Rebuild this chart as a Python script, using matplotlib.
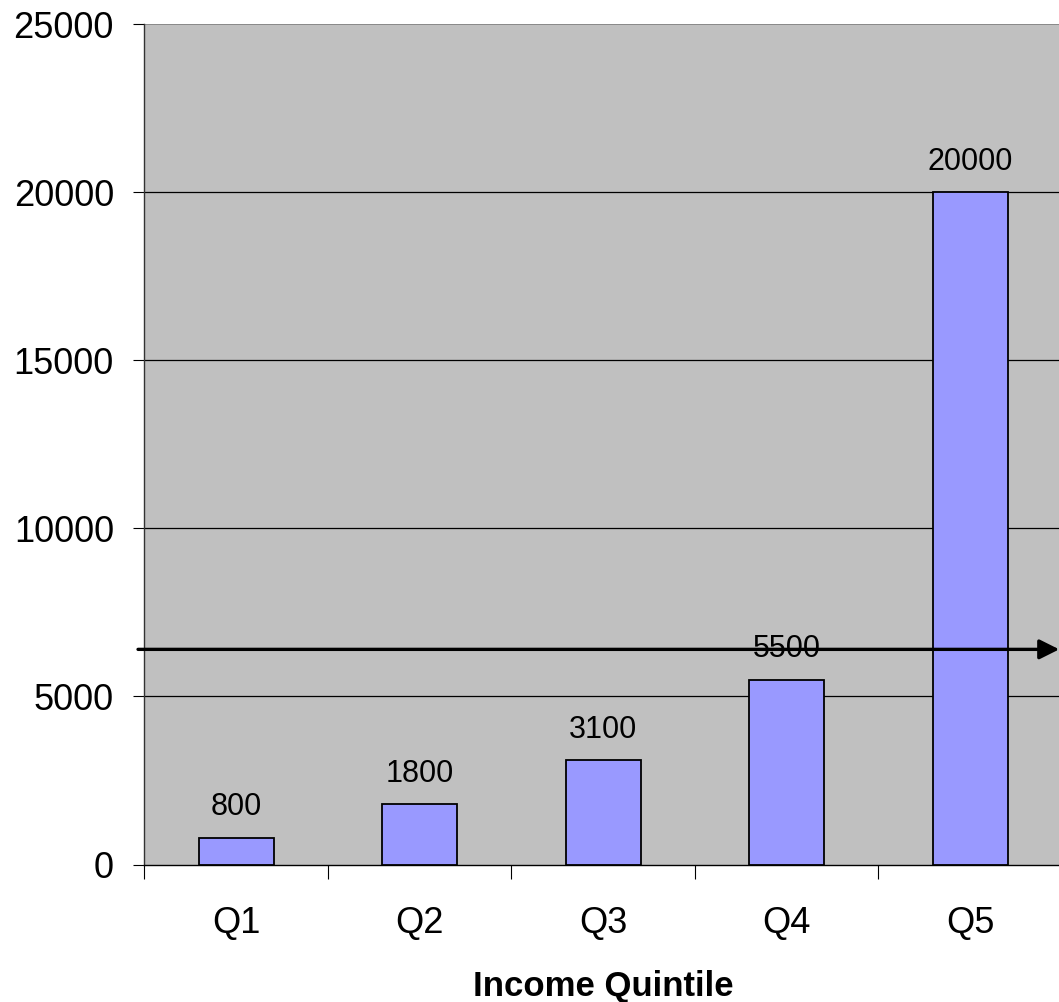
"""Income quintile bar chart with horizontal reference arrow."""

import matplotlib

matplotlib.use("Agg")
import matplotlib.pyplot as plt
from matplotlib.ticker import FixedLocator

plt.rcParams["font.family"] = ["Liberation Sans", "DejaVu Sans"]

# data
quintiles = ["Q1", "Q2", "Q3", "Q4", "Q5"]
values = [800, 1800, 3100, 5500, 20000]
y_ticks = [0, 5000, 10000, 15000, 20000, 25000]
arrow_level = 6400  # horizontal arrow (average-ish level)

fig = plt.figure(figsize=(10.59, 10.02), dpi=100)
ax = fig.add_axes([0.1364, 0.1372, 0.8664, 0.8388])
ax.set_facecolor("#c0c0c0")

x = list(range(len(quintiles)))
bars = ax.bar(x, values, width=0.41, color="#9999ff", edgecolor="black", linewidth=1.3, zorder=3)

ax.set_xlim(-0.5, len(quintiles) - 0.5)
ax.set_ylim(0, 25000)

# gridlines
for yv in y_ticks[1:-1]:
    ax.axhline(yv, color="black", linewidth=0.9, zorder=1)

# spines
for side in ("top", "right"):
    ax.spines[side].set_visible(False)
ax.spines["left"].set_color("#333333")
ax.spines["left"].set_linewidth(1.0)
ax.spines["bottom"].set_color("black")
ax.spines["bottom"].set_linewidth(1.0)
ax.axhline(25000, color="#808080", linewidth=1.2, zorder=2)

# y axis
ax.set_yticks(y_ticks)
ax.set_yticklabels([str(v) for v in y_ticks], fontsize=26)
ax.tick_params(axis="y", length=8, width=0.8, pad=14, colors="black")

# x axis: ticks on category boundaries, labels at centers
ax.xaxis.set_major_locator(FixedLocator([i - 0.5 for i in range(len(quintiles) + 1)]))
ax.xaxis.set_major_formatter(plt.NullFormatter())
ax.xaxis.set_minor_locator(FixedLocator(x))
ax.set_xticklabels(quintiles, minor=True, fontsize=26)
ax.tick_params(axis="x", which="major", length=10, width=0.8)
ax.tick_params(axis="x", which="minor", length=0, pad=30)
ax.set_xlabel("Income Quintile", fontsize=25, fontweight="bold", labelpad=21)

# value labels
for bar, v in zip(bars, values):
    ax.annotate(
        f"{v}",
        (bar.get_x() + bar.get_width() / 2, v),
        xytext=(0, 11),
        textcoords="offset points",
        ha="center",
        va="bottom",
        fontsize=22,
        zorder=4,
    )

# reference arrow across the chart
ax.annotate(
    "",
    xy=(4.485, arrow_level),
    xytext=(-0.535, arrow_level),
    xycoords="data",
    arrowprops=dict(arrowstyle="-|>", color="black", lw=2.4, mutation_scale=30, shrinkA=0, shrinkB=0),
    annotation_clip=False,
    zorder=5,
)

fig.savefig("out.png", dpi=100)
